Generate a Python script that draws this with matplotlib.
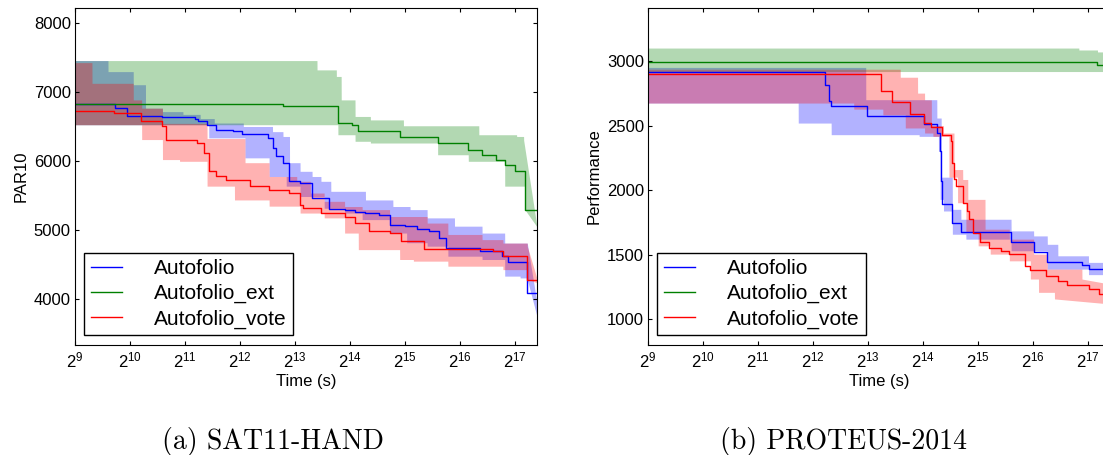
import numpy as np
import matplotlib
matplotlib.use('Agg')
import matplotlib.pyplot as plt
from matplotlib.ticker import NullLocator

plt.rcParams['font.family'] = ['Liberation Sans', 'DejaVu Sans']
plt.rcParams['mathtext.fontset'] = 'custom'
plt.rcParams['mathtext.rm'] = 'Liberation Sans'
plt.rcParams['mathtext.it'] = 'Liberation Sans:italic'
plt.rcParams['mathtext.bf'] = 'Liberation Sans:bold'

T_START = 512
T_END = 172800  # 2 days

names = ['Autofolio', 'Autofolio_ext', 'Autofolio_vote']
colors = ['#0000ff', '#008000', '#ff0000']

# ---- SAT11-HAND: (time [s], PAR10) step points, median / upper / lower quartile
sat_auto_med = [(512, 6835), (849, 6770), (989, 6660), (1541, 6640), (2320, 6610), (2427, 6580),
                (2702, 6520), (3018, 6450), (3744, 6435), (4175, 6390), (5793, 6340), (6170, 6190),
                (6433, 6070), (7034, 5980), (7590, 5710), (8725, 5680), (10160, 5470), (12590, 5310),
                (15290, 5290), (17450, 5260), (19900, 5250), (23650, 5225), (26950, 5080), (32770, 5060),
                (38180, 5020), (44490, 4985), (50480, 4890), (55100, 4740), (84000, 4700), (111000, 4625),
                (120500, 4545), (153000, 4090)]
sat_auto_hi = [(512, 7460), (776, 7300), (1067, 7110), (1245, 6770), (1541, 6720), (1994, 6680),
               (2480, 6620), (2960, 6555), (4270, 6505), (6170, 6430), (7034, 6360), (7640, 5980),
               (8725, 5855), (10160, 5780), (11350, 5710), (12850, 5565), (19900, 5440), (28100, 5345),
               (34900, 5300), (43300, 5180), (61100, 5060), (86500, 4960), (115000, 4815), (152800, 4815)]
sat_auto_hi_end = 3950
sat_auto_lo = [(512, 6530), (2760, 6340), (4360, 6050), (5910, 5780), (7330, 5640), (8725, 5490),
               (11830, 5320), (15290, 5250), (19080, 5155), (26950, 4960), (33450, 4820), (43300, 4770),
               (56200, 4625), (86500, 4577), (115000, 4336), (139700, 4310), (152800, 4290)]
sat_auto_lo_end = 3750

sat_ext_med = [(512, 6835), (7034, 6795), (14060, 6555), (16720, 6530), (18180, 6435), (30600, 6350),
               (49400, 6265), (72700, 6170), (86500, 6095), (102900, 6025), (115000, 5950),
               (131000, 5865), (148200, 5300)]
sat_ext_hi = [(512, 7460), (10810, 7325), (13780, 7230), (14660, 6890), (17450, 6650), (21170, 6600),
              (32100, 6515), (83000, 6385), (133700, 6360), (146000, 6310)]
sat_ext_hi_end = 5050
sat_ext_lo = [(512, 6530), (14060, 6385), (17450, 6290), (21170, 6265), (49400, 6095), (72700, 6000),
              (115000, 5640), (148200, 5300)]
sat_ext_lo_end = 5050

sat_vote_med = [(512, 6730), (839, 6700), (1177, 6580), (1541, 6515), (1608, 6315), (2370, 6265),
                (2590, 6120), (2760, 5855), (3018, 5785), (3444, 5735), (4640, 5638), (5910, 5590),
                (7640, 5540), (8725, 5370), (9090, 5320), (11350, 5250), (15290, 5200), (17450, 5105),
                (20730, 4985), (26950, 4960), (31200, 4840), (41450, 4735), (99300, 4700),
                (112000, 4625), (153000, 4275)]
sat_vote_hi = [(512, 7430), (634, 7130), (1067, 6890), (1186, 6770), (1541, 6550), (2702, 6330),
               (4360, 5980), (5910, 5780), (8370, 5710), (9940, 5540), (11830, 5420), (15290, 5345),
               (19080, 5300), (26950, 5200), (43300, 5105), (56200, 4940), (86500, 4865),
               (112500, 4815), (152800, 4770)]
sat_vote_hi_end = 4300
sat_vote_lo = [(512, 6530), (1186, 6315), (1541, 6025), (1912, 6000), (2702, 5640), (3820, 5440),
               (5910, 5350), (8725, 5250), (11830, 5180), (15290, 4960), (18180, 4720), (30600, 4577),
               (36400, 4553), (56200, 4480), (112500, 4430), (152800, 4290)]
sat_vote_lo_end = 4240

# ---- PROTEUS-2014: (time [s], performance)
pro_auto_med = [(512, 2918), (4770, 2815), (5000, 2686), (5150, 2653), (8080, 2576), (16500, 2514),
                (19600, 2442), (20200, 2300), (20500, 2069), (20800, 1894), (23700, 1748),
                (26400, 1679), (49700, 1599), (66000, 1522), (78400, 1445), (121300, 1420),
                (131800, 1388)]
pro_auto_hi = [(512, 2950), (7960, 2700), (19500, 2558), (20600, 2100), (23700, 1851), (26400, 1774),
               (49700, 1684), (66000, 1645), (78400, 1580), (89500, 1491), (131800, 1440)]
pro_auto_lo = [(512, 2674), (3400, 2519), (5150, 2429), (15600, 2416), (19900, 2300), (20300, 1928),
               (21200, 1838), (23700, 1658), (28100, 1620), (49700, 1530), (78400, 1388),
               (131800, 1345)]

pro_ext_med = [(512, 2990), (147600, 2970)]
pro_ext_hi = [(512, 3100), (116700, 3085), (147600, 3070)]
pro_ext_lo = [(512, 2918)]

pro_vote_med = [(512, 2900), (9680, 2769), (11100, 2681), (13870, 2589), (16500, 2519), (18200, 2486),
                (20800, 2429), (23200, 2378), (23700, 2211), (24200, 2082), (24700, 2030),
                (27000, 1902), (28500, 1838), (29400, 1774), (30700, 1671), (33500, 1594),
                (37400, 1555), (43500, 1530), (48600, 1504), (59000, 1409), (63300, 1383),
                (76900, 1337), (89500, 1298), (100000, 1265), (131800, 1234), (150400, 1195)]
pro_vote_hi = [(512, 2936), (12300, 2874), (15300, 2751), (16700, 2699), (18200, 2500), (21200, 2442),
               (24200, 2159), (27000, 2082), (28800, 1928), (35800, 1697), (48600, 1620),
               (66000, 1504), (78400, 1388), (121300, 1311)]
pro_vote_hi_end = 1272
pro_vote_lo = [(512, 2674), (6840, 2627), (9870, 2583), (13100, 2481), (16700, 2442), (18550, 2416),
               (22700, 2100), (25300, 1902), (28100, 1671), (32800, 1568), (38200, 1504),
               (48600, 1452), (63300, 1311), (70200, 1208), (85800, 1157)]
pro_vote_lo_end = 1118


grid = np.logspace(np.log2(T_START), np.log2(T_END), 6000, base=2)


def band(pts, end_v=None):
    t = np.array([p[0] for p in pts], float)
    v = np.array([p[1] for p in pts], float)
    idx = np.searchsorted(t, grid, side='right') - 1
    y = v[np.clip(idx, 0, None)]
    if end_v is not None:
        m = grid >= t[-1]
        frac = (np.log2(grid[m]) - np.log2(t[-1])) / (np.log2(T_END) - np.log2(t[-1]))
        y[m] = v[-1] + (end_v - v[-1]) * frac
    return y


def draw_panel(ax, series, ylim, yticks, ylabel):
    handles = []
    for (med, hi, hi_end, lo, lo_end), c, name in zip(series, colors, names):
        ax.fill_between(grid, band(lo, lo_end), band(hi, hi_end), color=c, alpha=0.3, lw=0)
        t = [p[0] for p in med] + [T_END]
        v = [p[1] for p in med] + [med[-1][1]]
        h, = ax.step(t, v, where='post', color=c, lw=1.0, label=name)
        handles.append(h)
    ax.set_xscale('log', base=2)
    ax.set_xlim(T_START, T_END)
    ax.set_xticks([2 ** k for k in range(9, 18)])
    ax.xaxis.set_minor_locator(NullLocator())
    ax.set_ylim(*ylim)
    ax.set_yticks(yticks)
    ax.tick_params(direction='in', top=True, right=True, length=3.2, width=0.8,
                   labelsize=12, pad=4)
    ax.tick_params(axis='y', pad=3)
    ax.set_xlabel('Time (s)', fontsize=12, labelpad=3)
    ax.set_ylabel(ylabel, fontsize=12)
    leg = ax.legend(handles=handles, loc='lower left', fontsize=15, fancybox=False,
                    edgecolor='black', framealpha=1, borderpad=0.3, labelspacing=0.3,
                    handlelength=1.5, handletextpad=1.55, borderaxespad=0.45)
    leg.get_frame().set_linewidth(1.0)


fig = plt.figure(figsize=(11.03, 4.55), dpi=100)
ax1 = fig.add_axes([75 / 1103, 110.5 / 455, 462 / 1103, 337 / 455])
ax2 = fig.add_axes([648 / 1103, 110.5 / 455, 462 / 1103, 337 / 455])

draw_panel(ax1,
           [(sat_auto_med, sat_auto_hi, sat_auto_hi_end, sat_auto_lo, sat_auto_lo_end),
            (sat_ext_med, sat_ext_hi, sat_ext_hi_end, sat_ext_lo, sat_ext_lo_end),
            (sat_vote_med, sat_vote_hi, sat_vote_hi_end, sat_vote_lo, sat_vote_lo_end)],
           (3345, 8229), [4000, 5000, 6000, 7000, 8000], 'PAR10')
draw_panel(ax2,
           [(pro_auto_med, pro_auto_hi, None, pro_auto_lo, None),
            (pro_ext_med, pro_ext_hi, None, pro_ext_lo, None),
            (pro_vote_med, pro_vote_hi, pro_vote_hi_end, pro_vote_lo, pro_vote_lo_end)],
           (804, 3414), [1000, 1500, 2000, 2500, 3000], 'Performance')

fig.text(273 / 1103, 6 / 455, '(a) SAT11-HAND', family='cmr10', fontsize=20, ha='center', va='baseline')
fig.text(843 / 1103, 6 / 455, '(b) PROTEUS-2014', family='cmr10', fontsize=20, ha='center', va='baseline')

fig.savefig('out.png', dpi=100)
